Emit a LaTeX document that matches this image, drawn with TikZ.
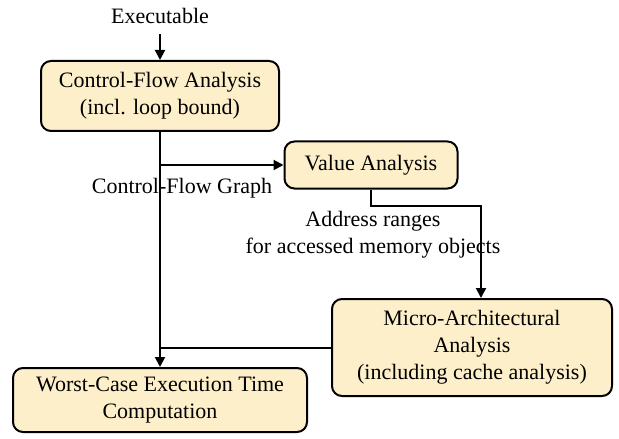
\documentclass[tikz,border=0pt]{standalone}
\usepackage{fontspec}
\setmainfont{Liberation Serif}
\usetikzlibrary{arrows.meta,positioning,calc}
\definecolor{softcream}{HTML}{FDEFC9}

\tikzset{
  stage/.style={draw, line width=1pt, rounded corners=5pt, fill=softcream, align=center, inner sep=0pt},
  flow/.style={line width=1pt},
  lbl/.style={align=center, inner sep=0pt}
}

\begin{document}
\begin{tikzpicture}[x=0.5pt, y=-0.5pt, font=\fontsize{11}{13.5}\selectfont, >={Triangle[length=5pt,width=5pt]}]
  \useasboundingbox (0,0) rectangle (619,438);

  % stages
  \node[stage, minimum width=119pt, minimum height=35pt] (cfa) at (160,96) {Control-Flow Analysis\\(incl. loop bound)};
  \node[stage, minimum width=86.5pt, minimum height=23.5pt] (va) at (371,165) {Value Analysis};
  \node[stage, minimum width=140pt, minimum height=48.5pt] (micro) at (472,347.5) {Micro-Architectural\\Analysis\\ (including cache analysis)};
  \node[stage, minimum width=147pt, minimum height=32pt] (wcet) at (160,400) {Worst-Case Execution Time\\Computation};

  % labels
  \node[lbl] (exe) at (160,16) {Executable};
  \node[lbl] (cfg) at (182,188) {Control-Flow Graph};
  \node[lbl] (addr) at (373,235) {Address ranges\\for accessed memory objects};
  \coordinate (vabend) at (481,206);

  % connectors
  \draw[flow,->, shorten <=5pt] (exe.south) -- (cfa.north);
  \draw[flow,->] (cfa.south) -- (wcet.north);
  \draw[flow,->] (cfa.south |- va.west) -- (va.west);
  \draw[flow,->] (va.south) |- (vabend) -- (vabend |- micro.north);
  \draw[flow] (micro.west) -- (micro.west -| cfa.south);
\end{tikzpicture}
\end{document}
